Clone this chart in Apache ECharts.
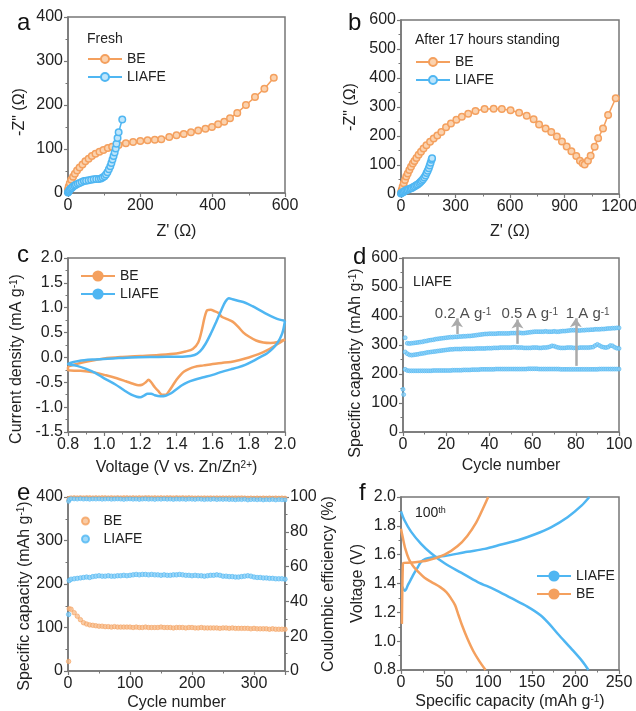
<!DOCTYPE html>
<html>
<head>
<meta charset="utf-8">
<script src="https://cdn.jsdelivr.net/npm/echarts@6/dist/echarts.min.js"></script>
<style>
html, body { margin: 0; padding: 0; background: #fff; }
#chart { width: 636px; height: 711px; }
</style>
</head>
<body>
<div id="chart"></div>
<script>
// a: Nyquist, fresh
const beFresh = [[0,8],[2,15],[5,22],[9,30],[14,37],[19,44],[25,51],[32,58],[40,65],[48,72],[57,78],[66,84],[76,89],[87,94],[98,98],[110,102],[122,105],[140,109],[160,113],[180,116],[200,118],[220,120],[240,121],[258,122],[280,127],[300,131],[320,134],[340,138],[360,142],[380,146],[398,150],[415,156],[432,162],[448,170],[468,182],[492,200],[517,218],[543,237],[569,262]]
const liafeFresh = [[0,1],[1,3],[3,5],[5,8],[8,10],[11,12],[14,15],[18,17],[22,19],[27,21],[32,23],[38,25],[44,27],[50,28],[57,29],[64,30],[71,31],[78,32],[85,32],[91,33],[96,35],[101,38],[105,42],[109,47],[113,54],[117,61],[120,68],[123,76],[126,84],[129,92],[132,101],[134,112],[137,125],[140,138],[150,167]]

// b: Nyquist, after 17 h
const beStand = [[0,5],[4,14],[9,25],[15,37],[22,48],[29,60],[37,71],[46,83],[55,94],[65,105],[74,114],[85,124],[97,135],[110,146],[124,157],[140,168],[160,180],[180,191],[200,202],[222,214],[248,230],[275,243],[305,256],[335,266],[370,277],[410,286],[460,293],[510,294],[555,293],[603,289],[650,280],[692,270],[730,258],[760,240],[796,226],[827,214],[858,198],[886,181],[912,164],[938,147],[965,131],[985,115],[1000,106],[1011,102],[1029,115],[1044,132],[1066,163],[1085,192],[1112,226],[1140,272],[1182,330]]
const liafeStand = [[0,2],[5,4],[10,6],[16,8],[22,11],[29,13],[36,15],[44,17],[52,19],[60,21],[68,24],[76,27],[84,30],[92,33],[100,37],[107,41],[114,46],[121,51],[128,57],[135,64],[141,72],[147,80],[153,89],[158,98],[163,108],[168,118],[171,123]]

// c: CV loops
const beCV = [[2.0,0.36],[1.95,0.25],[1.9,0.14],[1.85,0.06],[1.8,0.0],[1.75,-0.05],[1.7,-0.09],[1.65,-0.11],[1.6,-0.13],[1.55,-0.16],[1.5,-0.19],[1.47,-0.23],[1.44,-0.29],[1.42,-0.36],[1.4,-0.45],[1.38,-0.56],[1.36,-0.67],[1.34,-0.75],[1.32,-0.75],[1.3,-0.68],[1.28,-0.6],[1.26,-0.5],[1.245,-0.45],[1.23,-0.5],[1.21,-0.55],[1.19,-0.56],[1.16,-0.53],[1.12,-0.48],[1.07,-0.42],[1.01,-0.36],[0.94,-0.3],[0.87,-0.27],[0.8,-0.26],
  [0.8,-0.2],[0.85,-0.13],[0.92,-0.07],[1.0,-0.02],[1.1,0.01],[1.2,0.03],[1.3,0.05],[1.4,0.08],[1.45,0.12],[1.49,0.17],[1.52,0.3],[1.54,0.55],[1.555,0.8],[1.57,0.95],[1.59,0.96],[1.61,0.93],[1.63,0.9],[1.65,0.82],[1.68,0.77],[1.71,0.72],[1.74,0.62],[1.77,0.5],[1.8,0.42],[1.84,0.34],[1.88,0.3],[1.92,0.29],[1.96,0.31],[2.0,0.36]]
const liafeCV = [[2.0,0.74],[1.99,0.55],[1.98,0.44],[1.96,0.3],[1.93,0.17],[1.9,0.08],[1.86,0.0],[1.82,-0.08],[1.78,-0.15],[1.74,-0.2],[1.7,-0.24],[1.65,-0.29],[1.6,-0.35],[1.55,-0.4],[1.5,-0.45],[1.46,-0.5],[1.43,-0.56],[1.4,-0.64],[1.37,-0.72],[1.34,-0.77],[1.31,-0.78],[1.28,-0.76],[1.26,-0.73],[1.24,-0.73],[1.22,-0.77],[1.2,-0.8],[1.18,-0.79],[1.15,-0.75],[1.11,-0.66],[1.06,-0.54],[1.0,-0.42],[0.95,-0.31],[0.9,-0.23],[0.85,-0.17],[0.8,-0.13],
  [0.86,-0.07],[0.95,-0.04],[1.05,-0.02],[1.15,0.0],[1.3,0.01],[1.45,0.02],[1.5,0.05],[1.53,0.12],[1.56,0.27],[1.59,0.48],[1.62,0.72],[1.65,0.97],[1.67,1.12],[1.69,1.19],[1.71,1.17],[1.74,1.14],[1.78,1.1],[1.82,1.03],[1.86,0.95],[1.9,0.87],[1.94,0.8],[1.97,0.76],[2.0,0.74]]

// d: LIAFE rate test, cycles 1..100
const rate02 = [325,306,305,306,307,308,309,310,311,313,314,316,317,318,320,321,322,323,324,325,326,327,327,328,328,329,329,330,330,331,331,332,333,334,335,336,337,338,338,339,339,339,339,340,340,340,340,340,340,341,341,341,341,342,341,341,342,343,344,345,346,346,346,346,346,347,346,346,346,347,346,346,347,348,348,349,350,351,351,351,350,350,351,351,352,352,353,353,354,354,354,355,355,356,357,357,358,358,359,359]
const rate05 = [276,270,266,265,266,267,268,270,271,272,274,275,276,277,278,279,280,281,282,283,284,285,285,286,286,286,286,287,287,287,287,287,287,288,288,288,288,288,289,289,289,290,290,290,291,291,291,291,291,291,292,292,291,291,291,290,290,290,290,291,291,291,290,290,291,291,292,294,297,296,293,291,290,290,290,291,291,291,290,290,290,291,291,291,291,291,292,293,298,302,298,294,292,291,293,298,297,292,289,288]
const rate1 = [216,212,211,211,211,211,211,211,211,211,211,211,211,212,212,212,212,212,212,212,212,212,213,213,213,213,213,214,214,214,214,215,215,215,215,216,216,216,216,216,216,216,217,217,217,217,217,217,217,217,217,217,217,217,217,217,217,218,218,218,218,218,217,217,217,217,217,217,217,217,217,217,216,216,216,216,216,216,216,216,216,216,216,216,216,216,216,216,216,216,217,217,217,217,217,217,217,217,217,217]
const rateFirst = [[0,147],[0.3,129]]
const rateLabels = ['0.2', '0.5', '1']
const rateLabelX = [27.8, 58.7, 85.5]

// e: long cycling
const eCycles = [1,2,5,10,15,20,25,30,35,40,45,50,55,60,65,70,75,80,85,90,95,100,105,110,115,120,125,130,135,140,145,150,155,160,165,170,175,180,185,190,195,200,205,210,215,220,225,230,235,240,245,250,255,260,265,270,275,280,285,290,295,300,305,310,315,320,325,330,335,340,345,350]
const beCap = [22,143,142,134,126,118,111,108,106,105,104,103,103,102,102,101,102,101,101,101,101,101,100,101,100,100,101,100,100,100,100,101,100,100,100,99,100,100,100,99,100,100,99,99,100,99,99,99,99,99,98,99,99,98,99,98,98,98,98,98,97,98,97,97,97,97,96,97,96,96,96,96]
const liafeCap = [130,208,211,212,213,214,215,216,215,217,218,219,218,218,219,218,218,219,219,220,219,220,221,222,221,222,222,221,222,221,221,220,221,220,220,221,221,222,221,220,220,219,220,219,219,218,219,220,220,221,220,218,218,217,217,216,216,217,218,219,218,216,215,215,214,214,213,213,212,212,212,211]
const beCE = [98.2,99.3,99.6,99.7,99.6,99.7,99.6,99.7,99.7,99.6,99.7,99.6,99.7,99.7,99.6,99.7,99.6,99.7,99.6,99.7,99.7,99.6,99.7,99.6,99.7,99.6,99.7,99.7,99.6,99.7,99.6,99.7,99.6,99.7,99.7,99.6,99.7,99.6,99.7,99.6,99.7,99.6,99.5,99.6,99.5,99.6,99.5,99.6,99.5,99.6,99.5,99.6,99.5,99.6,99.5,99.6,99.5,99.6,99.5,99.4,99.5,99.4,99.5,99.4,99.5,99.4,99.5,99.4,99.5,99.4,99.5,99.4]
const liafeCE = [97.5,98.6,99.0,98.9,98.8,99.0,98.8,98.9,98.7,98.9,98.8,98.9,98.7,98.8,98.9,98.7,98.8,98.9,98.8,98.6,98.8,98.9,98.7,98.8,98.6,98.8,98.9,98.7,98.8,98.6,98.8,98.7,98.9,98.7,98.8,98.6,98.8,98.7,98.8,98.6,98.8,98.7,98.6,98.8,98.7,98.5,98.7,98.6,98.8,98.5,98.7,98.6,98.7,98.5,98.6,98.4,98.6,98.5,98.7,98.3,98.5,98.6,98.4,98.6,98.3,98.5,98.4,98.6,98.3,98.5,98.4,98.3]

// f: 100th cycle voltage profiles
const liafeCharge = [[1,1.38],[4.6,1.35],[8,1.39],[11.5,1.43],[15,1.47],[19,1.51],[23,1.55],[28,1.57],[35,1.58],[50,1.59],[76,1.62],[96,1.64],[115,1.67],[134,1.7],[153,1.74],[172,1.79],[191,1.86],[207,1.94],[216,2.0]]
const liafeDischarge = [[0,1.9],[3.8,1.84],[11.5,1.76],[23,1.675],[34.5,1.61],[50,1.54],[69,1.475],[88,1.41],[107,1.36],[126,1.3],[145,1.24],[160,1.18],[170,1.12],[180,1.05],[195,0.95],[208,0.86],[215,0.8]]
const beCharge = [[1,1.12],[1.5,1.35],[2,1.5],[2.5,1.54],[11.5,1.545],[30,1.56],[50,1.6],[65,1.66],[76,1.73],[86,1.82],[94,1.92],[100,2.0]]
const beDischarge = [[0,1.78],[2,1.72],[5,1.64],[9,1.57],[14,1.52],[20,1.48],[27,1.44],[35,1.41],[45,1.375],[52,1.34],[57,1.3],[62,1.25],[66,1.18],[70,1.11],[76,1.02],[83,0.93],[90,0.86],[97,0.8]]

const FONT = "'Liberation Sans', Arial, sans-serif"
const ORANGE = '#F4A05E'
const BLUE = '#4FB6F2'
const AX = '#777'
const TXT = '#222'

const sup = {
    a: { fontSize: 16, fontFamily: FONT, color: TXT },
    b: { fontSize: 10, fontFamily: FONT, color: TXT, verticalAlign: 'top' }
}
const supSmall = {
    a: { fontSize: 15, fontFamily: FONT, color: TXT },
    b: { fontSize: 10, fontFamily: FONT, color: TXT, verticalAlign: 'top' }
}

let mkAxis = (grid, min, max, interval, name, gap, dec, extra) => Object.assign({
    gridIndex: grid, type: 'value', min: min, max: max, interval: interval,
    name: name, nameLocation: 'middle', nameGap: gap,
    nameTextStyle: { fontSize: 16, fontFamily: FONT, color: TXT, rich: sup },
    axisLine: { show: true, onZero: false, lineStyle: { color: AX, width: 1.5 } },
    axisTick: { show: true, length: 4, lineStyle: { color: AX, width: 1.2 } },
    minorTick: { show: true, splitNumber: 2, length: 2.5, lineStyle: { color: AX } },
    splitLine: { show: false },
    axisLabel: { fontSize: 16, fontFamily: FONT, color: TXT, margin: 5,
        formatter: dec ? (v => v.toFixed(dec)) : (v => String(v)) }
}, extra || {})

// rotated y-axis names sit a bit below the middle in the original
let shiftDown = (axis, px) => {
    axis.nameTextStyle.padding = [0, px * 2, 0, 0]
    return axis
}

let grids = [
    { left: 68, top: 17, width: 217, height: 176 },
    { left: 401, top: 20, width: 218, height: 174 },
    { left: 68, top: 258, width: 217, height: 174 },
    { left: 403, top: 258, width: 216, height: 174 },
    { left: 68, top: 497, width: 217, height: 174 },
    { left: 401, top: 497, width: 218, height: 173 }
].map(g => Object.assign(g, { show: true, borderColor: AX, borderWidth: 1.5, outerBoundsMode: 'none' }))

let nyq = (name, data, color, xi) => ({
    name: name, type: 'line', xAxisIndex: xi, yAxisIndex: xi, data: data,
    symbol: 'circle', symbolSize: 6.5,
    lineStyle: { color: color, width: 1.5 },
    itemStyle: { color: color === ORANGE ? '#FBD2AE' : '#BEE5FB', borderColor: color, borderWidth: 1.5 },
    z: 3
})
let curve = (name, data, color, xi, yi) => ({
    name: name, type: 'line', xAxisIndex: xi, yAxisIndex: yi, data: data,
    symbol: 'none', smooth: 0.3,
    lineStyle: { color: color, width: 2.5 }, itemStyle: { color: color }
})
let dots = (name, data, xi, yi, size) => ({
    name: name, type: 'scatter', xAxisIndex: xi, yAxisIndex: yi, data: data,
    symbolSize: size,
    itemStyle: { color: name.indexOf('BE') === 0 ? '#F8BE8E' : '#8ACFF7',
        borderColor: name.indexOf('BE') === 0 ? ORANGE : BLUE, borderWidth: 0.8 }
})

let legendBase = (left, top, names, w, h) => ({
    left: left, top: top, orient: 'vertical', itemGap: 4, itemWidth: w, itemHeight: h,
    data: names, selectedMode: false,
    formatter: n => n.split('_')[0],
    textStyle: { fontSize: 14, fontFamily: FONT, color: TXT }
})

let letter = (t, left, top) => ({ text: t, left: left, top: top,
    textStyle: { fontSize: 24, fontWeight: 'normal', fontFamily: FONT, color: '#111' } })
let note = (t, left, top) => ({ text: t, left: left, top: top,
    textStyle: { fontSize: 14, fontWeight: 'normal', fontFamily: FONT, color: TXT,
        rich: { a: { fontSize: 14, fontFamily: FONT, color: TXT }, b: { fontSize: 9, fontFamily: FONT, color: TXT, verticalAlign: 'top' } } } })

const chart = echarts.init(document.getElementById('chart'), null, { renderer: 'canvas' })

const option = {
    animation: false,
    backgroundColor: '#fff',
    title: [
        letter('a', 12, 6), letter('b', 343, 6), letter('c', 12, 238),
        letter('d', 348, 240), letter('e', 12, 476), letter('f', 354, 476),
        note('Fresh', 82, 27), note('After 17 hours standing', 410, 28),
        note('LIAFE', 408, 270), note('{a|100}{b|th}', 410, 501)
    ],
    legend: [
        legendBase(82, 47, ['BE_a', 'LIAFE_a'], 34, 10),
        legendBase(410, 50, ['BE_b', 'LIAFE_b'], 34, 10),
        legendBase(75, 264, ['BE_c', 'LIAFE_c'], 34, 14),
        legendBase(76, 509, ['BE_e', 'LIAFE_e'], 26, 7),
        legendBase(531, 564, ['LIAFE_f', 'BE_f'], 34, 14)
    ],
    grid: grids,
    xAxis: [
        mkAxis(0, 0, 600, 200, "Z' (Ω)", 31),
        mkAxis(1, 0, 1200, 300, "Z' (Ω)", 30),
        mkAxis(2, 0.8, 2.0, 0.2, '{a|Voltage (V vs. Zn/Zn}{b|2+}{a|)}', 28, 1),
        mkAxis(3, 0, 100, 20, 'Cycle number', 26),
        mkAxis(4, 0, 350, 100, 'Cycle number', 24),
        mkAxis(5, 0, 250, 50, '{a|Specific capacity (mAh g}{b|-1}{a|)}', 24)
    ],
    yAxis: [
        shiftDown(mkAxis(0, 0, 400, 100, '-Z" (Ω)', 40), 7),
        mkAxis(1, 0, 600, 100, '-Z" (Ω)', 42),
        shiftDown(mkAxis(2, -1.5, 2.0, 0.5, '{a|Current density (mA g}{b|-1}{a|)}', 43, 1), 14),
        shiftDown(mkAxis(3, 0, 600, 100, '{a|Specific capacity (mAh g}{b|-1}{a|)}', 39), 18),
        shiftDown(mkAxis(4, 0, 400, 100, '{a|Specific capacity (mAh g}{b|-1}{a|)}', 34), 12),
        mkAxis(4, 0, 100, 20, 'Coulombic efficiency (%)', 32, 0, { position: 'right' }),
        mkAxis(5, 0.8, 2.0, 0.2, 'Voltage (V)', 35, 1)
    ],
    series: [
        nyq('BE_a', beFresh, ORANGE, 0),
        nyq('LIAFE_a', liafeFresh, BLUE, 0),
        nyq('BE_b', beStand, ORANGE, 1),
        nyq('LIAFE_b', liafeStand, BLUE, 1),
        curve('BE_c', beCV, ORANGE, 2, 2),
        curve('LIAFE_c', liafeCV, BLUE, 2, 2),
        dots('LIAFE_d1', rate02.map((v, i) => [i + 1, v]), 3, 3, 4),
        dots('LIAFE_d2', rate05.map((v, i) => [i + 1, v]), 3, 3, 4),
        Object.assign(dots('LIAFE_d3', rate1.map((v, i) => [i + 1, v]), 3, 3, 4), {
            markLine: {
                silent: true, symbol: ['none', 'arrow'], symbolSize: 9,
                label: { show: false },
                lineStyle: { color: '#AAAAAA', width: 2.5, type: 'solid' },
                data: [
                    [{ coord: [25, 338] }, { coord: [25, 392] }],
                    [{ coord: [53, 304] }, { coord: [53, 388] }],
                    [{ coord: [80, 228] }, { coord: [80, 392] }]
                ]
            }
        }),
        dots('LIAFE_d0', rateFirst, 3, 3, 4),
        {
            type: 'scatter', xAxisIndex: 3, yAxisIndex: 3, symbolSize: 0, silent: true,
            data: rateLabels.map((t, i) => ({ name: t, value: [rateLabelX[i], 406] })),
            label: { show: true, position: 'inside', formatter: p => '{a|' + p.name + ' A g}{b|-1}', rich: supSmall }
        },
        dots('BE_e', beCE.map((v, i) => [eCycles[i], v]), 4, 5, 4),
        dots('LIAFE_e', liafeCE.map((v, i) => [eCycles[i], v]), 4, 5, 4),
        dots('BE_e', beCap.map((v, i) => [eCycles[i], v]), 4, 4, 4.5),
        dots('LIAFE_e', liafeCap.map((v, i) => [eCycles[i], v]), 4, 4, 4.5),
        curve('LIAFE_f', liafeCharge, BLUE, 5, 6),
        curve('LIAFE_f', liafeDischarge, BLUE, 5, 6),
        curve('BE_f', beCharge, ORANGE, 5, 6),
        curve('BE_f', beDischarge, ORANGE, 5, 6)
    ]
}
option.xAxis[4].axisLabel.showMaxLabel = false

chart.setOption(option)
</script>
</body>
</html>
